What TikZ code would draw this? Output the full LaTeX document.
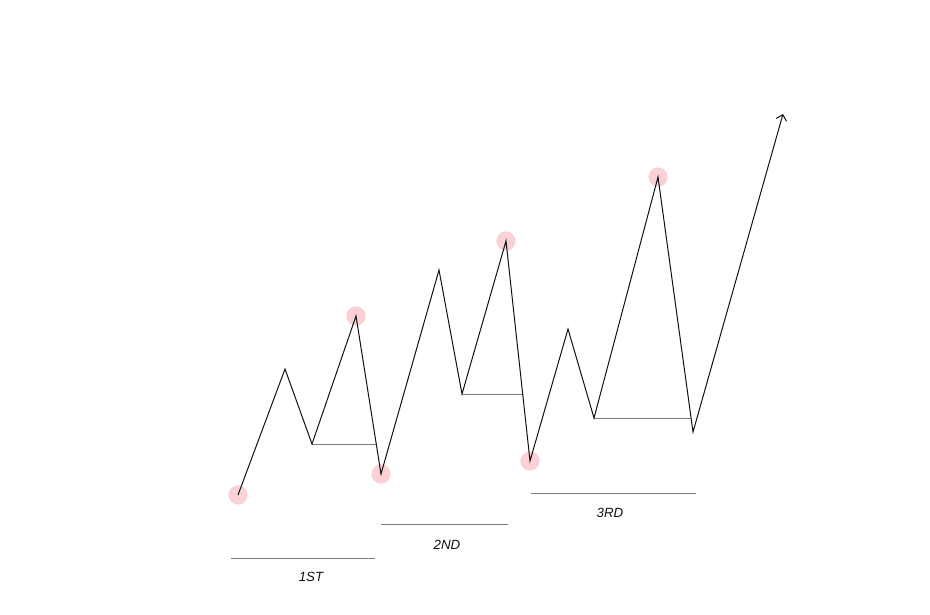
\documentclass[tikz,border=0pt]{standalone}
\usepackage{fontspec}
\setmainfont{Liberation Sans}
\usetikzlibrary{arrows.meta,calc}
\definecolor{ink}{HTML}{111111}
\definecolor{rule}{HTML}{7A7A7A}
\definecolor{blush}{HTML}{FAD2D5}
\tikzset{
  swing/.style={draw=ink, line width=0.75pt, line join=miter},
  level/.style={draw=rule, line width=0.7pt},
  under/.style={draw=rule, line width=0.7pt},
  pivot/.style={circle, fill=blush, draw=none, minimum size=14.5pt, inner sep=0pt},
  lbl/.style={font=\fontsize{10}{12}\selectfont\itshape, text=ink, inner sep=0pt}
}
\begin{document}
\begin{tikzpicture}[x=0.75pt, y=-0.75pt]
  \useasboundingbox (0,0) rectangle (930,614);
  \coordinate (p0) at (238,495);
  \coordinate (p1) at (285,369);
  \coordinate (p2) at (312,444);
  \coordinate (p3) at (356,316);
  \coordinate (p4) at (381,474);
  \coordinate (p5) at (439,270);
  \coordinate (p6) at (462,394);
  \coordinate (p7) at (506,241);
  \coordinate (p8) at (530,461);
  \coordinate (p9) at (568,329);
  \coordinate (p10) at (594,418);
  \coordinate (p11) at (658,177);
  \coordinate (p12) at (693,432);
  \coordinate (p13) at (783,114);

  \foreach \p in {p0,p3,p4,p7,p8,p11}
    \node[pivot] (dot-\p) at (\p) {};

  \coordinate (h1) at ($(p3)!0.81!(p4)$);
  \coordinate (h2) at ($(p7)!0.69!(p8)$);
  \coordinate (h3) at ($(p11)!0.945!(p12)$);
  \draw[level] (p2) -- (p2 -| h1);
  \draw[level] (p6) -- (p6 -| h2);
  \draw[level] (p10) -- (p10 -| h3);

  \draw[swing, -{Straight Barb[length=4pt, width=8pt]}]
    (p0) -- (p1) -- (p2) -- (p3) -- (p4) -- (p5) -- (p6) -- (p7)
    -- (p8) -- (p9) -- (p10) -- (p11) -- (p12) -- (p13);

  \coordinate (u1a) at (231,558); \coordinate (u1b) at (375,558);
  \coordinate (u2a) at (381,524); \coordinate (u2b) at (508,524);
  \coordinate (u3a) at (531,493); \coordinate (u3b) at (696,493);
  \draw[under] (u1a) -- (u1b);
  \draw[under] (u2a) -- (u2b);
  \draw[under] (u3a) -- (u3b);

  \node[lbl] (first) at (311,577) {1ST};
  \node[lbl] (second) at (447,545) {2ND};
  \node[lbl] (third) at (610,513) {3RD};
\end{tikzpicture}
\end{document}
